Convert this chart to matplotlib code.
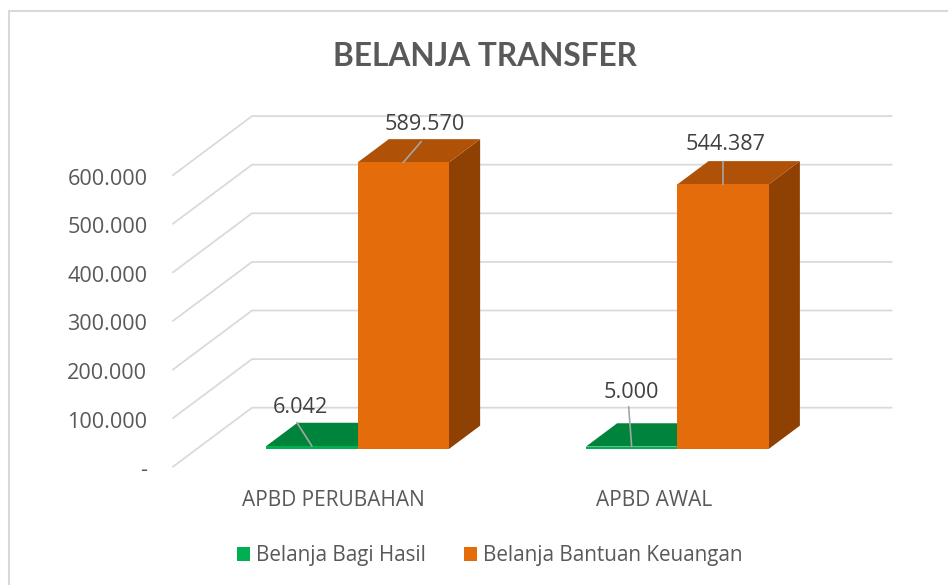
import matplotlib
matplotlib.use("Agg")
import matplotlib.pyplot as plt
from matplotlib.lines import Line2D
from matplotlib.patches import Patch
from matplotlib.transforms import Affine2D

categories = ["APBD PERUBAHAN", "APBD AWAL"]
bagi_hasil = [6042, 5000]
bantuan_keuangan = [589570, 544387]
value_labels_bagi = ["6.042", "5.000"]
value_labels_bantuan = ["589.570", "544.387"]
y_ticks = [0, 100000, 200000, 300000, 400000, 500000, 600000]
y_tick_labels = ["-", "100.000", "200.000", "300.000", "400.000", "500.000", "600.000"]
title = "BELANJA TRANSFER"
series_names = ["Belanja Bagi Hasil", "Belanja Bantuan Keuangan"]

W, H = 948, 585
FONT = "Open Sans"
TEXT = "#404040"
TEXT2 = "#595959"
GRID = "#D9D9D9"

fig = plt.figure(figsize=(W / 100, H / 100), dpi=100, facecolor="white")
L, R, B, T = 173.0, 812.5, 466.7, 175.1
ax = fig.add_axes([L / W, 1 - B / H, (R - L) / W, (B - T) / H])
ax.set_xlim(-0.5, 1.5)
ax.set_ylim(0, 600000)
ax.patch.set_alpha(0)
for s in ax.spines.values():
    s.set_visible(False)

# oblique projection: depth 0 = front of floor, depth 1 = back wall
DX = 79.0 / 319.75          # x data units per unit depth
DY = 59.0 / (B - T) * 600000  # value units per unit depth


def proj(x, v, d):
    return x + d * DX, v + d * DY


def poly(pts, color, z):
    xs, ys = zip(*pts)
    ax.fill(xs, ys, color=color, lw=0, clip_on=False, zorder=z)


# walls
for v in y_ticks:
    a = proj(-0.5, v, 0)
    b = proj(-0.5, v, 1)
    c = proj(1.5, v, 1)
    ax.plot([a[0], b[0], c[0]], [a[1], b[1], c[1]], color=GRID, lw=1.25,
            clip_on=False, zorder=1, solid_joinstyle="miter")

# bars
D0, D1 = 0.30, 0.695
BW = 0.2857
SHIFT = (1 / 319.75) * 0.5


def box(x0, x1, v, front, top, side, z):
    poly([proj(x1, 0, D0), proj(x1, 0, D1), proj(x1, v, D1), proj(x1, v, D0)], side, z)
    poly([proj(x0, v, D0), proj(x1, v, D0), proj(x1, v, D1), proj(x0, v, D1)], top, z)
    poly([proj(x0, 0, D0), proj(x1, 0, D0), proj(x1, v, D0), proj(x0, v, D0)], front, z + 0.1)


for i in range(len(categories)):
    c = i + SHIFT * 2
    box(c - BW, c, bagi_hasil[i], "#00B050", "#00843C", "#00843C", 2)
    box(c, c + BW, bantuan_keuangan[i], "#E46C0A", "#AF5208", "#8F4104", 3)

# data labels with leader lines (offsets in pixels from the front-top centre of the bar)
LEADER = "#A6A6A6"


def label(x, v, text, end, txt):
    xy = proj(x, v, D0)
    ax.annotate("", xy=xy, xycoords="data", xytext=end, textcoords="offset pixels",
                arrowprops=dict(arrowstyle="-", color=LEADER, lw=1.2, shrinkA=0, shrinkB=0),
                annotation_clip=False, zorder=5)
    ax.annotate(text, xy=xy, xycoords="data", xytext=txt, textcoords="offset pixels",
                ha="center", va="center", fontsize=15.6, color=TEXT, family=FONT,
                annotation_clip=False, zorder=6)


offsets_b = [((-15, 23.5), (-12, 38.5)), ((-3, 40), (0, 54))]
offsets_o = [((18, 21), (21, 37.5)), ((0, 23), (2.5, 39.5))]
for i in range(len(categories)):
    c = i + SHIFT * 2
    label(c - BW / 2, bagi_hasil[i], value_labels_bagi[i], *offsets_b[i])
    label(c + BW / 2, bantuan_keuangan[i], value_labels_bantuan[i], *offsets_o[i])

# axes
ax.set_yticks(y_ticks)
ax.set_yticklabels(y_tick_labels, family=FONT, fontsize=15.6, color=TEXT2)
ax.set_xticks(range(len(categories)))
ax.set_xticklabels(categories, family=FONT, fontsize=15, color=TEXT2)
ax.tick_params(axis="y", length=0, pad=18.5)
ax.tick_params(axis="x", length=0, pad=16.7)
for t in ax.get_yticklabels():
    t.set_transform(t.get_transform() + Affine2D().translate(0, -1.5))
for t in ax.get_xticklabels():
    t.set_transform(t.get_transform() + Affine2D().translate(1, 0))

# title
fig.text(485 / W, 1 - 56 / H, title, ha="center", va="center", fontsize=22.8,
         fontweight="bold", family="Lato", color=TEXT2)

# legend
handles = [Patch(facecolor="#00B050", edgecolor="none"), Patch(facecolor="#E46C0A", edgecolor="none")]
fig.legend(handles, series_names, loc="center", bbox_to_anchor=(490 / W, 1 - 556 / H),
           ncol=2, frameon=False, prop={"family": FONT, "size": 14.9}, labelcolor=TEXT2,
           handlelength=0.63, handleheight=0.63, handletextpad=0.29, columnspacing=1.85)

# chart frame
fig.add_artist(Line2D([9 / W, 9 / W, 1], [0, 1 - 11 / H, 1 - 11 / H], color=GRID, lw=1.5,
                      transform=fig.transFigure, solid_joinstyle="miter"))

fig.savefig("out.png", dpi=100, facecolor="white")
